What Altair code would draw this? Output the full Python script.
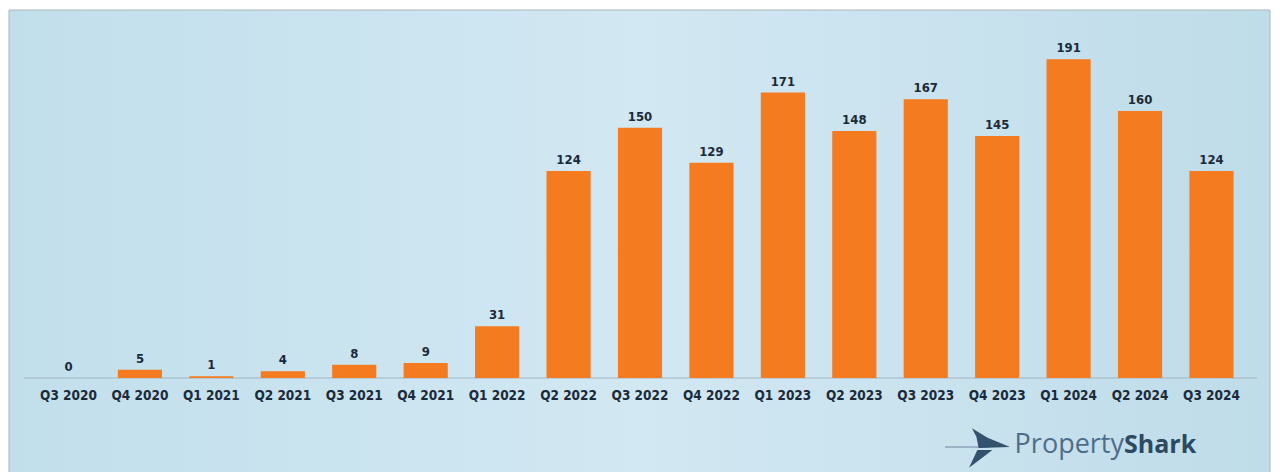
import altair as alt
import pandas as pd

quarters = ["Q3 2020", "Q4 2020", "Q1 2021", "Q2 2021", "Q3 2021", "Q4 2021",
            "Q1 2022", "Q2 2022", "Q3 2022", "Q4 2022", "Q1 2023", "Q2 2023",
            "Q3 2023", "Q4 2023", "Q1 2024", "Q2 2024", "Q3 2024"]
values = [0, 5, 1, 4, 8, 9, 31, 124, 150, 129, 171, 148, 167, 145, 191, 160, 124]

df = pd.DataFrame({"quarter": quarters, "value": values})
one = pd.DataFrame({"k": [1]})

W, H = 1260, 462
xs = alt.Scale(domain=quarters, paddingInner=0.382, paddingOuter=0.51)
ys = alt.Scale(domain=[(370 - H) / 1.669, 370 / 1.669], nice=False, zero=False)

FONT = "DejaVu Sans Condensed"
TXT = "#1b2a3a"

bg = alt.Chart(one).mark_rect(
    fill={"gradient": "linear", "x1": 0, "y1": 0, "x2": 1, "y2": 0,
          "stops": [{"offset": 0, "color": "#c1dfeb"},
                    {"offset": 0.5, "color": "#d2e8f3"},
                    {"offset": 1, "color": "#bfdce9"}]},
    stroke="#aab6bd", strokeWidth=1
).encode(x=alt.value(-1), x2=alt.value(W), y=alt.value(2), y2=alt.value(H + 6))

xenc = alt.X("quarter:N", scale=xs, axis=None, sort=quarters)
yenc = alt.Y("value:Q", scale=ys, axis=None)

base_rule = alt.Chart(one).mark_rule(color="#a3b6c2", strokeWidth=1).encode(
    x=alt.value(14), x2=alt.value(1247), y=alt.value(370)
)

bars = alt.Chart(df).mark_bar(color="#f47b20").encode(
    x=xenc, y=yenc, y2=alt.datum(0),
)

vlabels = alt.Chart(df).mark_text(
    font=FONT, fontWeight="bold", fontSize=13, color=TXT, baseline="bottom", dy=-4
).encode(x=xenc, y=yenc, text="value:Q")

xlabels = alt.Chart(df).mark_text(
    font=FONT, fontWeight="bold", fontSize=13.5, color=TXT, baseline="middle", dy=18
).encode(x=xenc, y=alt.datum(0), text="quarter:N")

logo1 = alt.Chart(one).mark_text(
    text="Property", font="Open Sans", fontSize=27, color="#4e6d88", align="right",
    baseline="alphabetic"
).encode(x=alt.value(1114), y=alt.value(445))

logo2 = alt.Chart(one).mark_text(
    text="Shark", font="Open Sans", fontWeight="bold", fontSize=25, color="#2d4a63",
    align="left", baseline="alphabetic"
).encode(x=alt.value(1114), y=alt.value(445))

streak = alt.Chart(one).mark_rule(color="#9db3c4", strokeWidth=2).encode(
    x=alt.value(935), x2=alt.value(980), y=alt.value(439)
)

fin_path = ("M -0.19 -0.62 L 0.3 -0.32 L 1 -0.03 L 0.02 0 L -0.05 -0.35 Z "
            "M 0.45 0.06 L -0.28 0.62 L -0.02 0.06 Z")
icon = alt.Chart(one).mark_point(
    shape=fin_path, filled=True, color="#2b4a66", opacity=0.95, size=4096
).encode(x=alt.value(968), y=alt.value(440))

chart = alt.layer(bg, base_rule, bars, vlabels, xlabels, streak, icon, logo1, logo2).properties(
    width=W, height=H, padding=0, background="white"
).configure_view(stroke=None)

chart.save("out.html", embed_options={"renderer": "svg", "actions": False})
